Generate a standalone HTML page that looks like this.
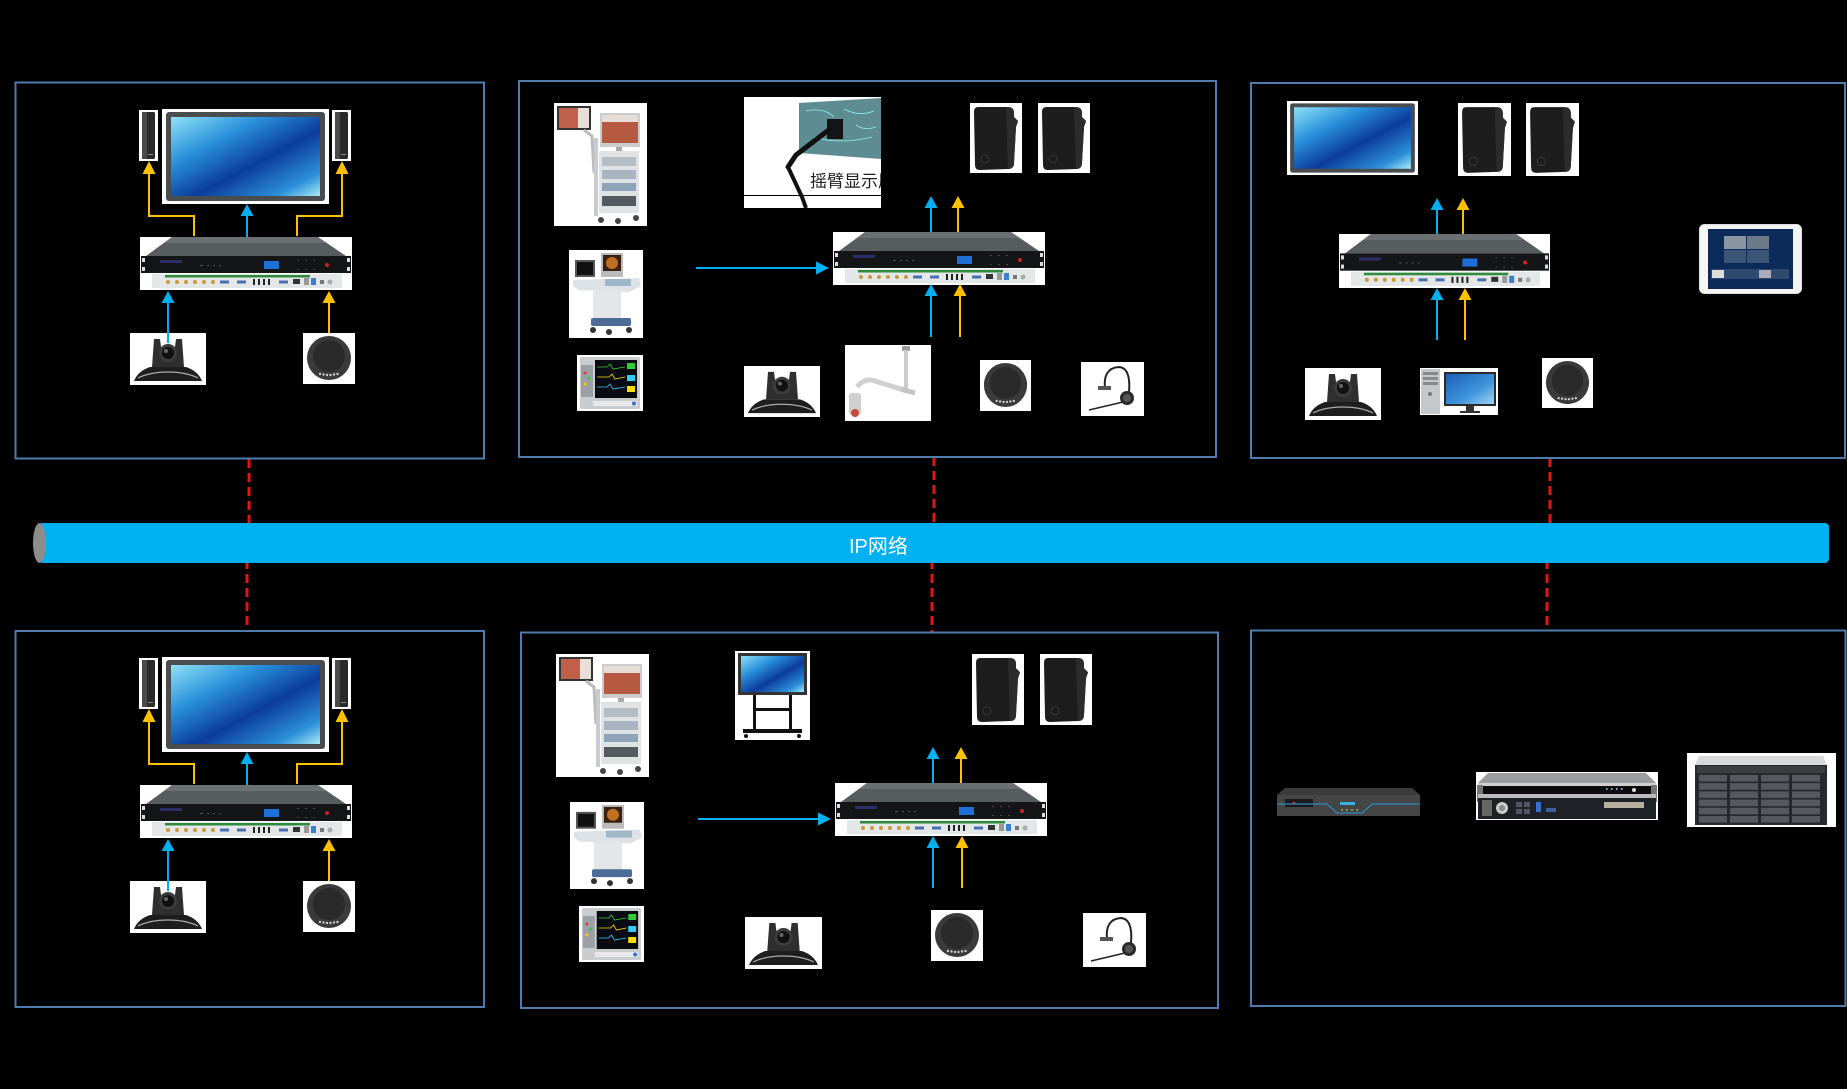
<!DOCTYPE html>
<html>
<head>
<meta charset="utf-8">
<style>
html,body{margin:0;padding:0;background:#000;}
body{width:1847px;height:1089px;overflow:hidden;}
svg{display:block;}
</style>
</head>
<body>
<svg width="1847" height="1089" viewBox="0 0 1847 1089" xmlns="http://www.w3.org/2000/svg">
<defs>
<linearGradient id="scr" x1="0" y1="0" x2="1" y2="1">
<stop offset="0" stop-color="#8fe0f5"/>
<stop offset="0.3" stop-color="#2a92dc"/>
<stop offset="0.58" stop-color="#0b3c9e"/>
<stop offset="0.85" stop-color="#2c8fd8"/>
<stop offset="1" stop-color="#a8ecf7"/>
</linearGradient>
<linearGradient id="scr2" x1="0" y1="0" x2="1" y2="1">
<stop offset="0" stop-color="#1b5fb8"/>
<stop offset="0.6" stop-color="#3f95db"/>
<stop offset="1" stop-color="#9fd4f5"/>
</linearGradient>

<symbol id="enc" viewBox="0 0 212 53" preserveAspectRatio="none">
<rect width="212" height="53" fill="#fff"/>
<polygon points="32,0 178,0 206,19 6,19" fill="#575c5e"/>
<polygon points="32,0 178,0 186,6 24,6" fill="#6b7072"/>
<rect x="1" y="19" width="210" height="17" fill="#141516"/>
<rect x="2" y="21" width="3" height="4" fill="#ddd"/>
<rect x="2" y="30" width="3" height="4" fill="#ddd"/>
<rect x="207" y="21" width="3" height="4" fill="#ddd"/>
<rect x="207" y="30" width="3" height="4" fill="#ddd"/>
<rect x="20" y="23" width="22" height="3" fill="#2a2f6a"/>
<g fill="#555"><rect x="60" y="28" width="3" height="1"/><rect x="67" y="28" width="2" height="1"/><rect x="73" y="28" width="2" height="1"/><rect x="79" y="28" width="2" height="1"/></g>
<rect x="124" y="24" width="15" height="8" fill="#1e6fd6"/>
<g fill="#444"><rect x="157" y="23" width="2" height="1"/><rect x="165" y="23" width="2" height="1"/><rect x="173" y="23" width="2" height="1"/><rect x="157" y="32" width="2" height="1"/><rect x="165" y="32" width="2" height="1"/><rect x="173" y="32" width="2" height="1"/></g>
<circle cx="187" cy="28" r="2" fill="#d02020"/>
<rect x="12" y="37" width="190" height="14" fill="#e4e7e7"/>
<rect x="25" y="38" width="145" height="2.5" fill="#2e8b3c"/>
<g fill="#c89a3a"><circle cx="28" cy="45" r="2"/><circle cx="37" cy="45" r="2"/><circle cx="46" cy="45" r="2"/><circle cx="55" cy="45" r="2"/><circle cx="64" cy="45" r="2"/><circle cx="73" cy="45" r="2"/></g>
<g fill="#4a6fb0"><rect x="80" y="43.5" width="9" height="3"/><rect x="97" y="43.5" width="9" height="3"/><rect x="139" y="43.5" width="9" height="3"/></g>
<g fill="#222"><rect x="113" y="42" width="2" height="6"/><rect x="118" y="42" width="2" height="6"/><rect x="123" y="42" width="2" height="6"/><rect x="128" y="42" width="2" height="6"/></g>
<rect x="153" y="42" width="7" height="5" fill="#333"/>
<rect x="164" y="41" width="5" height="7" fill="#999"/>
<rect x="171" y="41" width="5" height="7" fill="#3a7fd0"/>
<rect x="180" y="43" width="4" height="4" fill="#777"/>
<circle cx="190" cy="45" r="2.5" fill="#aaa"/>
</symbol>

<symbol id="mon" viewBox="0 0 167 95" preserveAspectRatio="none">
<rect width="167" height="95" fill="#fff"/>
<rect x="4" y="3" width="159" height="89" rx="3" fill="#4a4d4f"/>
<rect x="9" y="8" width="149" height="79" fill="url(#scr)"/>
</symbol>

<symbol id="spk" viewBox="0 0 19 51" preserveAspectRatio="none">
<rect width="19" height="51" fill="#fff"/>
<rect x="3" y="2" width="13" height="47" rx="1.5" fill="#2a2a2a"/>
<rect x="3" y="2" width="5" height="47" fill="#4a4a4a"/>
<rect x="9" y="44" width="5" height="1" fill="#888"/>
</symbol>

<symbol id="wsp" viewBox="0 0 52 70" preserveAspectRatio="none">
<rect width="52" height="70" fill="#fff"/>
<path d="M8,4 L38,4 Q44,4 44,10 L44,14 L48,18 L46,24 L44,60 Q44,66 38,66 L10,67 Q5,67 5,62 L4,9 Q4,4 8,4Z" fill="#1d1d1d"/>
<path d="M36,4 Q44,4 44,10 L44,14 L48,18 L46,24 L44,60 Q44,66 38,66 Z" fill="#2c2c2c"/>
<circle cx="15" cy="56" r="4" fill="none" stroke="#383838" stroke-width="1"/>
</symbol>

<symbol id="cam" viewBox="0 0 76 52" preserveAspectRatio="none">
<rect width="76" height="52" fill="#fff"/>
<path d="M4,48 Q8,38 20,34 L56,34 Q68,38 72,48 Z" fill="#1e1e1e"/>
<path d="M8,45 Q20,39 38,39 Q56,39 68,45" stroke="#aaa" stroke-width="1.2" fill="none"/>
<path d="M24,6 L30,6 L31,14 L45,14 L46,6 L52,6 L54,34 L22,34 Z" fill="#2f2f2f"/>
<circle cx="38" cy="20" r="9" fill="#3c3c3c"/>
<circle cx="38" cy="20" r="6" fill="#111"/>
<circle cx="36" cy="18" r="2" fill="#666"/>
</symbol>

<symbol id="mic" viewBox="0 0 52 51" preserveAspectRatio="none">
<rect width="52" height="51" fill="#fff"/>
<circle cx="26" cy="25" r="22" fill="#3a3a3a"/>
<circle cx="26" cy="23" r="16" fill="#2a2a2a"/>
<g fill="#ccc"><circle cx="17" cy="41" r="1.2"/><circle cx="20.5" cy="41.5" r="1.2"/><circle cx="24" cy="42" r="1.2"/><circle cx="27.5" cy="42" r="1.2"/><circle cx="31" cy="41.5" r="1.2"/><circle cx="34.5" cy="41" r="1.2"/></g>
</symbol>

<symbol id="hs" viewBox="0 0 63 54" preserveAspectRatio="none">
<rect width="63" height="54" fill="#fff"/>
<path d="M24,26 Q22,6 38,5 Q50,6 48,30" stroke="#222" stroke-width="2" fill="none"/>
<rect x="17" y="24" width="13" height="4" fill="#555"/>
<circle cx="46" cy="36" r="7" fill="#2a2a2a"/>
<circle cx="46" cy="36" r="4" fill="#555"/>
<path d="M8,48 Q25,44 42,40" stroke="#222" stroke-width="1.5" fill="none"/>
</symbol>

<symbol id="endo" viewBox="0 0 93 123" preserveAspectRatio="none">
<rect width="93" height="123" fill="#fff"/>
<rect x="3" y="3" width="34" height="24" fill="#333"/>
<rect x="5" y="5" width="30" height="20" fill="#c0604a"/>
<rect x="24" y="5" width="11" height="20" fill="#e8e0d8"/>
<path d="M30,27 L38,33 L40,70" stroke="#bbb" stroke-width="3" fill="none"/>
<rect x="46" y="10" width="40" height="34" fill="#ccc"/>
<rect x="48" y="12" width="36" height="28" fill="#b55a40"/>
<rect x="48" y="12" width="36" height="7" fill="#e6ded6"/>
<rect x="62" y="44" width="6" height="6" fill="#aaa"/>
<rect x="40" y="35" width="4" height="78" fill="#c8ccd0"/>
<rect x="45" y="48" width="40" height="62" fill="#dfe3e6"/>
<rect x="48" y="54" width="34" height="9" fill="#b4bcc4"/>
<rect x="48" y="67" width="34" height="9" fill="#aab4c0"/>
<rect x="48" y="80" width="34" height="8" fill="#8fa3b8"/>
<rect x="48" y="93" width="34" height="10" fill="#555a60"/>
<circle cx="47" cy="117" r="3" fill="#444"/>
<circle cx="64" cy="118" r="3" fill="#444"/>
<circle cx="82" cy="115" r="3" fill="#444"/>
</symbol>

<symbol id="us" viewBox="0 0 74 88" preserveAspectRatio="none">
<rect width="74" height="88" fill="#fff"/>
<rect x="6" y="10" width="20" height="17" fill="#555"/>
<rect x="8" y="12" width="16" height="13" fill="#111"/>
<rect x="32" y="3" width="22" height="24" fill="#bbb"/>
<rect x="34" y="5" width="18" height="16" fill="#3a2010"/>
<ellipse cx="43" cy="13" rx="6" ry="6" fill="#c07020"/>
<polygon points="4,30 70,28 72,36 60,42 10,40 4,36" fill="#dde2e6"/>
<rect x="36" y="29" width="26" height="7" fill="#9fb6c8"/>
<rect x="24" y="40" width="28" height="30" fill="#e4e7ea"/>
<rect x="22" y="68" width="40" height="8" rx="2" fill="#4d6b96"/>
<circle cx="24" cy="80" r="3" fill="#333"/>
<circle cx="60" cy="80" r="3" fill="#333"/>
<circle cx="40" cy="82" r="3" fill="#333"/>
</symbol>

<symbol id="pm" viewBox="0 0 66 56" preserveAspectRatio="none">
<rect width="66" height="56" fill="#fff"/>
<rect x="3" y="2" width="60" height="52" rx="2" fill="#c9cdd0"/>
<rect x="4" y="10" width="12" height="32" fill="#9aa0a4"/>
<circle cx="8" cy="18" r="1.5" fill="#e33"/>
<circle cx="12" cy="23" r="1.5" fill="#3c3"/>
<circle cx="8" cy="29" r="1.5" fill="#fc0"/>
<rect x="18" y="5" width="42" height="38" fill="#0a0a12"/>
<polyline points="20,12 30,12 33,9 36,14 48,12" stroke="#3c3" stroke-width="0.8" fill="none"/>
<polyline points="20,22 32,22 35,19 38,24 48,22" stroke="#fd0" stroke-width="0.8" fill="none"/>
<polyline points="20,32 30,32 33,29 36,34 48,32" stroke="#3cf" stroke-width="0.8" fill="none"/>
<rect x="50" y="8" width="8" height="6" fill="#3c3"/>
<rect x="50" y="20" width="8" height="6" fill="#3cf"/>
<rect x="50" y="31" width="8" height="6" fill="#fd0"/>
<rect x="16" y="46" width="44" height="5" fill="#e8e8e8"/>
<circle cx="57" cy="48.5" r="2" fill="#3a6fd0"/>
</symbol>

<symbol id="acam" viewBox="0 0 86 76" preserveAspectRatio="none">
<rect width="86" height="76" fill="#fff"/>
<rect x="57" y="1" width="8" height="5" rx="1" fill="#999"/>
<rect x="59" y="5" width="4" height="40" fill="#ccc"/>
<path d="M12,42 Q20,32 30,36 L62,46" stroke="#d0d0d0" stroke-width="5" fill="none"/>
<path d="M56,44 L70,48" stroke="#c4c4c4" stroke-width="5"/>
<rect x="4" y="48" width="12" height="22" rx="3" fill="#cfcfcf"/>
<circle cx="10" cy="68" r="4" fill="#c84a3a"/>
</symbol>

<symbol id="pc" viewBox="0 0 78 47" preserveAspectRatio="none">
<rect width="78" height="47" fill="#fff"/>
<rect x="1" y="1" width="19" height="45" fill="#c4c8ca"/>
<rect x="3" y="4" width="15" height="3" fill="#888"/>
<rect x="3" y="9" width="15" height="3" fill="#888"/>
<rect x="3" y="14" width="15" height="3" fill="#888"/>
<circle cx="10" cy="26" r="2" fill="#777"/>
<rect x="24" y="4" width="52" height="34" fill="#2a2a2a"/>
<rect x="26" y="6" width="48" height="30" fill="url(#scr2)"/>
<rect x="46" y="38" width="8" height="5" fill="#333"/>
<rect x="40" y="43" width="20" height="2" fill="#333"/>
</symbol>

<symbol id="tab" viewBox="0 0 103 70" preserveAspectRatio="none">
<rect x="0.5" y="0.5" width="102" height="69" rx="5" fill="#f4f4f4" stroke="#ddd"/>
<rect x="9" y="5" width="85" height="60" fill="#0c2b5a"/>
<rect x="25" y="12" width="22" height="13" fill="#8a96a2"/>
<rect x="48" y="12" width="22" height="13" fill="#6d7b88"/>
<rect x="25" y="26" width="22" height="13" fill="#3a5575"/>
<rect x="48" y="26" width="22" height="13" fill="#3a5575"/>
<rect x="12" y="45" width="78" height="10" fill="#2f4a6e"/>
<rect x="13" y="46" width="12" height="8" fill="#ddd"/>
<rect x="60" y="46" width="12" height="8" fill="#aab"/>
</symbol>

<symbol id="std" viewBox="0 0 75 89" preserveAspectRatio="none">
<rect width="75" height="89" fill="#fff"/>
<rect x="3" y="2" width="69" height="42" fill="#333"/>
<rect x="6" y="5" width="63" height="36" fill="url(#scr)"/>
<rect x="18" y="44" width="3" height="36" fill="#111"/>
<rect x="54" y="44" width="3" height="36" fill="#111"/>
<rect x="18" y="57" width="39" height="3" fill="#111"/>
<rect x="8" y="78" width="59" height="4" fill="#111"/>
<circle cx="11" cy="85" r="2" fill="#111"/>
<circle cx="64" cy="85" r="2" fill="#111"/>
</symbol>

<symbol id="dvr" viewBox="0 0 143 28" preserveAspectRatio="none">
<polygon points="8,0 135,0 143,7 0,7" fill="#3b3b3b"/>
<rect x="0" y="7" width="143" height="21" fill="#454545"/>
<rect x="8" y="11" width="28" height="8" fill="#1a1a1a"/>
<circle cx="17" cy="15" r="1.5" fill="#d22"/>
<path d="M0,16 L50,16 L60,25 L85,25 L95,16 L143,16" stroke="#2a8ac0" stroke-width="1.2" fill="none"/>
<rect x="63" y="14" width="15" height="3" fill="#3ab0e0"/>
<g fill="#b8d050"><circle cx="65" cy="22" r="0.9"/><circle cx="70" cy="22" r="0.9"/><circle cx="75" cy="22" r="0.9"/><circle cx="80" cy="22" r="0.9"/></g>
</symbol>

<symbol id="srv" viewBox="0 0 182 48" preserveAspectRatio="none">
<rect width="182" height="48" fill="#fff"/>
<polygon points="12,1 170,1 180,11 2,11" fill="#9a9c9e"/>
<rect x="2" y="11" width="178" height="3" fill="#d0d0d0"/>
<rect x="6" y="14" width="170" height="8" fill="#0c0c0c"/>
<rect x="1" y="13" width="6" height="17" fill="#777"/>
<rect x="175" y="13" width="6" height="17" fill="#777"/>
<rect x="2" y="22" width="178" height="4" fill="#bbb"/>
<rect x="2" y="26" width="178" height="21" fill="#1e2226"/>
<rect x="6" y="28" width="10" height="16" fill="#666"/>
<circle cx="26" cy="36" r="6" fill="#ccc"/>
<circle cx="26" cy="36" r="3" fill="#888"/>
<g fill="#556"><rect x="40" y="30" width="6" height="5"/><rect x="48" y="30" width="6" height="5"/><rect x="40" y="37" width="6" height="5"/><rect x="48" y="37" width="6" height="5"/></g>
<rect x="60" y="30" width="5" height="10" fill="#3a6fd0"/>
<rect x="70" y="36" width="10" height="4" fill="#3f5fa0"/>
<rect x="128" y="30" width="40" height="6" fill="#b8b0a0"/>
<g fill="#8af"><rect x="130" y="16" width="1.5" height="2"/><rect x="135" y="16" width="1.5" height="2"/><rect x="140" y="16" width="1.5" height="2"/><rect x="145" y="16" width="1.5" height="2"/></g>
<circle cx="158" cy="18" r="2" fill="#ddd"/>
</symbol>

<symbol id="sto" viewBox="0 0 149 74" preserveAspectRatio="none">
<rect width="149" height="74" fill="#fff"/>
<polygon points="12,3 136,3 140,12 8,12" fill="#d7d9da"/>
<rect x="8" y="12" width="132" height="60" fill="#262a2c"/>
<rect x="10" y="13" width="128" height="7" fill="#3a3e40"/>
<g id="bayrow" fill="#55595d">
<rect x="12" y="22" width="28" height="6.5"/>
<rect x="43" y="22" width="28" height="6.5"/>
<rect x="74" y="22" width="28" height="6.5"/>
<rect x="105" y="22" width="28" height="6.5"/>
</g>
<use href="#bayrow" y="8.2"/>
<use href="#bayrow" y="16.4"/>
<use href="#bayrow" y="24.6"/>
<use href="#bayrow" y="32.8"/>
<use href="#bayrow" y="41"/>
</symbol>
</defs>

<rect width="1847" height="1089" fill="#000"/>

<!-- Red dashed links -->
<g stroke="#e31414" stroke-width="3" stroke-dasharray="9 5" fill="none">
<line x1="249" y1="459" x2="249" y2="526"/>
<line x1="247" y1="560" x2="247" y2="631"/>
<line x1="934" y1="457" x2="934" y2="526"/>
<line x1="932" y1="560" x2="932" y2="632"/>
<line x1="1550" y1="458" x2="1550" y2="526"/>
<line x1="1547" y1="560" x2="1547" y2="630"/>
</g>

<!-- IP bar -->
<rect x="39" y="523" width="1790" height="40" rx="4" fill="#00b0f0"/>
<ellipse cx="39.5" cy="543" rx="6.5" ry="20" fill="#8c8c8c"/>
<text x="849" y="553" font-family="Liberation Sans, Noto Sans CJK SC, sans-serif" font-size="20" fill="#ffffff">IP网络</text>

<!-- Boxes -->
<g fill="none" stroke="#4f7cac" stroke-width="2">
<rect x="15.5" y="82.5" width="468.5" height="376"/>
<rect x="519" y="81" width="697" height="376"/>
<rect x="1251" y="83" width="594" height="375"/>
<rect x="15.5" y="631" width="468.5" height="376"/>
<rect x="521" y="632.5" width="697" height="375.5"/>
<rect x="1251" y="630.5" width="594.5" height="375.5"/>
</g>

<!-- Top-left -->
<use href="#mon" x="162" y="109" width="167" height="95"/>
<use href="#spk" x="139" y="110" width="19" height="51"/>
<use href="#spk" x="332" y="110" width="19" height="51"/>
<use href="#enc" x="140" y="237" width="212" height="53"/>
<use href="#cam" x="130" y="333" width="76" height="52"/>
<use href="#mic" x="303" y="333" width="52" height="51"/>

<!-- Bottom-left -->
<use href="#mon" x="162" y="657" width="167" height="95"/>
<use href="#spk" x="139" y="658" width="19" height="51"/>
<use href="#spk" x="332" y="658" width="19" height="51"/>
<use href="#enc" x="140" y="785" width="212" height="53"/>
<use href="#cam" x="130" y="881" width="76" height="52"/>
<use href="#mic" x="303" y="881" width="52" height="51"/>

<!-- Top-middle -->
<use href="#endo" x="554" y="103" width="93" height="123"/>
<use href="#us" x="569" y="250" width="74" height="88"/>
<use href="#pm" x="577" y="355" width="66" height="56"/>
<svg x="744" y="97" width="137" height="111" viewBox="0 0 137 111">
<rect width="137" height="111" fill="#fff"/>
<polygon points="55,6 137,1 137,62 55,56" fill="#5d8c92"/>
<path d="M62,14 Q80,10 90,20 M100,12 Q115,20 130,14 M70,40 Q95,48 128,40 M112,28 Q120,34 132,30" stroke="#8ff0f0" stroke-width="0.8" fill="none"/>
<rect x="83" y="22" width="16" height="20" fill="#151515"/>
<path d="M86,32 L52,58 L44,70" stroke="#111" stroke-width="5" fill="none" stroke-linecap="round"/>
<path d="M44,70 L58,100 L62,111" stroke="#111" stroke-width="4" fill="none"/>
<line x1="0" y1="98.5" x2="137" y2="98.5" stroke="#000" stroke-width="1"/>
<text x="66" y="90" font-family="Liberation Sans, Noto Sans CJK SC, sans-serif" font-size="17" fill="#222">摇臂显示屏</text>
</svg>
<use href="#wsp" x="970" y="103" width="52" height="70"/>
<use href="#wsp" x="1038" y="103" width="52" height="70"/>
<use href="#enc" x="833" y="232" width="212" height="53"/>
<use href="#cam" x="744" y="366" width="76" height="51"/>
<use href="#acam" x="845" y="345" width="86" height="76"/>
<use href="#mic" x="980" y="360" width="51" height="51"/>
<use href="#hs" x="1081" y="362" width="63" height="54"/>

<!-- Top-right -->
<use href="#mon" x="1287" y="101" width="131" height="74"/>
<use href="#wsp" x="1458" y="103" width="53" height="73"/>
<use href="#wsp" x="1526" y="103" width="53" height="73"/>
<use href="#enc" x="1339" y="234" width="211" height="54"/>
<use href="#cam" x="1305" y="368" width="76" height="52"/>
<use href="#pc" x="1420" y="368" width="78" height="47"/>
<use href="#mic" x="1542" y="358" width="51" height="50"/>
<use href="#tab" x="1699" y="224" width="103" height="70"/>

<!-- Bottom-middle -->
<use href="#endo" x="556" y="654" width="93" height="123"/>
<use href="#std" x="735" y="651" width="75" height="89"/>
<use href="#us" x="570" y="802" width="74" height="87"/>
<use href="#pm" x="579" y="906" width="65" height="56"/>
<use href="#wsp" x="972" y="654" width="52" height="71"/>
<use href="#wsp" x="1040" y="654" width="52" height="71"/>
<use href="#enc" x="835" y="783" width="212" height="53"/>
<use href="#cam" x="745" y="917" width="77" height="52"/>
<use href="#mic" x="931" y="910" width="52" height="51"/>
<use href="#hs" x="1083" y="913" width="63" height="54"/>

<!-- Bottom-right -->
<use href="#dvr" x="1277" y="788" width="143" height="28"/>
<use href="#srv" x="1476" y="772" width="182" height="48"/>
<use href="#sto" x="1687" y="753" width="149" height="74"/>

<!-- Arrows -->
<g fill="none" stroke-width="2">
<!-- TL -->
<polyline points="194,236 194,216 149,216 149,173" stroke="#ffc000"/>
<line x1="247" y1="237" x2="247" y2="215" stroke="#00b0f0"/>
<polyline points="297,236 297,216 342,216 342,173" stroke="#ffc000"/>
<line x1="168" y1="343" x2="168" y2="302" stroke="#00b0f0"/>
<line x1="329" y1="333" x2="329" y2="302" stroke="#ffc000"/>
<!-- BL -->
<polyline points="194,784 194,764 149,764 149,721" stroke="#ffc000"/>
<line x1="247" y1="785" x2="247" y2="763" stroke="#00b0f0"/>
<polyline points="297,784 297,764 342,764 342,721" stroke="#ffc000"/>
<line x1="168" y1="891" x2="168" y2="850" stroke="#00b0f0"/>
<line x1="329" y1="881" x2="329" y2="850" stroke="#ffc000"/>
<!-- TM -->
<line x1="931" y1="232" x2="931" y2="207" stroke="#00b0f0"/>
<line x1="958" y1="232" x2="958" y2="207" stroke="#ffc000"/>
<line x1="696" y1="268" x2="817" y2="268" stroke="#00b0f0"/>
<line x1="931" y1="337" x2="931" y2="295" stroke="#00b0f0"/>
<line x1="960" y1="337" x2="960" y2="295" stroke="#ffc000"/>
<!-- TR -->
<line x1="1437" y1="234" x2="1437" y2="209" stroke="#00b0f0"/>
<line x1="1463" y1="234" x2="1463" y2="209" stroke="#ffc000"/>
<line x1="1437" y1="340" x2="1437" y2="299" stroke="#00b0f0"/>
<line x1="1465" y1="340" x2="1465" y2="299" stroke="#ffc000"/>
<!-- BM -->
<line x1="933" y1="783" x2="933" y2="758" stroke="#00b0f0"/>
<line x1="961" y1="783" x2="961" y2="758" stroke="#ffc000"/>
<line x1="698" y1="819" x2="819" y2="819" stroke="#00b0f0"/>
<line x1="933" y1="888" x2="933" y2="847" stroke="#00b0f0"/>
<line x1="962" y1="888" x2="962" y2="847" stroke="#ffc000"/>
</g>
<g fill="#ffc000">
<polygon points="149,161 142.5,174 155.5,174"/>
<polygon points="342,161 335.5,174 348.5,174"/>
<polygon points="329,291 322.5,303 335.5,303"/>
<polygon points="149,709 142.5,722 155.5,722"/>
<polygon points="342,709 335.5,722 348.5,722"/>
<polygon points="329,839 322.5,851 335.5,851"/>
<polygon points="958,196 951.5,208 964.5,208"/>
<polygon points="960,284 953.5,296 966.5,296"/>
<polygon points="1463,198 1456.5,210 1469.5,210"/>
<polygon points="1465,288 1458.5,300 1471.5,300"/>
<polygon points="961,747 954.5,759 967.5,759"/>
<polygon points="962,836 955.5,848 968.5,848"/>
</g>
<g fill="#00b0f0">
<polygon points="247,204 240.5,216 253.5,216"/>
<polygon points="168,291 161.5,303 174.5,303"/>
<polygon points="247,752 240.5,764 253.5,764"/>
<polygon points="168,839 161.5,851 174.5,851"/>
<polygon points="931,196 924.5,208 937.5,208"/>
<polygon points="829,268 816,261.5 816,274.5"/>
<polygon points="931,284 924.5,296 937.5,296"/>
<polygon points="1437,198 1430.5,210 1443.5,210"/>
<polygon points="1437,288 1430.5,300 1443.5,300"/>
<polygon points="933,747 926.5,759 939.5,759"/>
<polygon points="831,819 818,812.5 818,825.5"/>
<polygon points="933,836 926.5,848 939.5,848"/>
</g>
</svg>
</body>
</html>
